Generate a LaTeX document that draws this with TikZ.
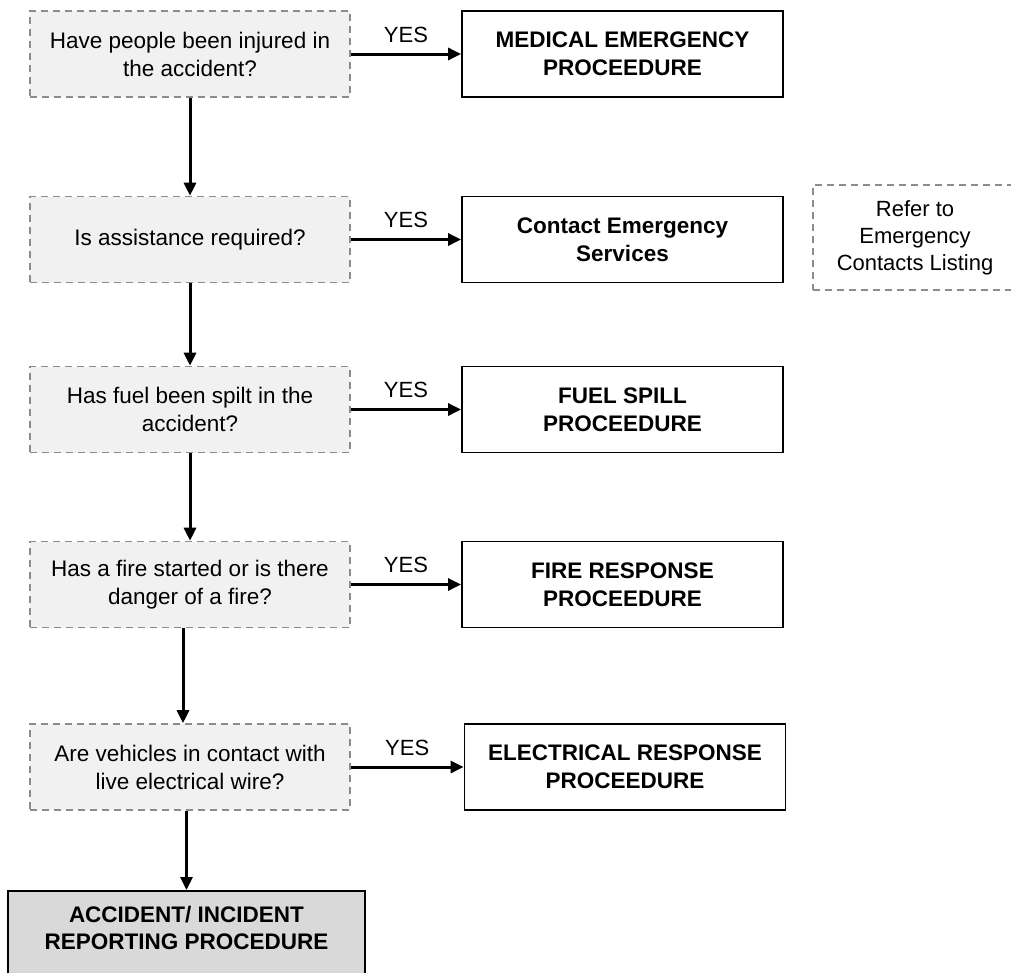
\documentclass[tikz,border=0pt]{standalone}
\usepackage{fontspec}
\setmainfont{Liberation Sans}
\usetikzlibrary{arrows.meta}
\definecolor{qfill}{HTML}{F1F1F1}
\definecolor{qline}{HTML}{8C8C8C}
\definecolor{endfill}{HTML}{D9D9D9}
\begin{document}
\begin{tikzpicture}[x=1pt,y=-1pt,
  question/.style={draw=qline, fill=qfill, line width=1.6pt, dash pattern=on 7pt off 5pt,
    minimum width=320pt, minimum height=86pt, align=center, inner sep=0pt,
    font=\fontsize{22.5}{28}\selectfont},
  note/.style={draw=qline, line width=1.6pt, dash pattern=on 7pt off 5pt,
    minimum width=204pt, minimum height=105pt, align=center, inner sep=0pt,
    font=\fontsize{22}{27}\selectfont},
  procbox/.style={draw=black, fill=white, line width=1.8pt,
    minimum width=321pt, minimum height=86pt, align=center, inner sep=0pt,
    font=\bfseries\fontsize{22.5}{28}\selectfont},
  finalbox/.style={draw=black, fill=endfill, line width=1.8pt,
    minimum width=357pt, minimum height=92pt, align=center, inner sep=0pt,
    text depth=19pt, font=\bfseries\fontsize{22.5}{27}\selectfont},
  flow/.style={line width=3pt, -{Triangle[length=13pt,width=12pt]}},
  yes/.style={midway, above, inner sep=0pt, yshift=10pt, font=\fontsize{22}{25}\selectfont}
]
\useasboundingbox (0,0) rectangle (1011,972);

% decision questions
\node[question] (q1) at (190,54)    {Have people been injured in\\the accident?};
\node[question] (q2) at (190,239.5) {Is assistance required?};
\node[question] (q3) at (190,409.5) {Has fuel been spilt in the\\accident?};
\node[question] (q4) at (190,584.5) {Has a fire started or is there\\danger of a fire?};
\node[question] (q5) at (190,767)   {Are vehicles in contact with\\live electrical wire?};

% procedures
\node[procbox] (p1) at (622.5,54)    {MEDICAL EMERGENCY\\PROCEEDURE};
\node[procbox] (p2) at (622.5,239.5) {Contact Emergency\\Services};
\node[procbox] (p3) at (622.5,409.5) {FUEL SPILL\\PROCEEDURE};
\node[procbox] (p4) at (622.5,584.5) {FIRE RESPONSE\\PROCEEDURE};
\node[procbox] (p5) at (625,767)     {ELECTRICAL RESPONSE\\PROCEEDURE};

% side note
\node[note] (contacts) at (915,237.5) {Refer to\\Emergency\\Contacts Listing};

% final reporting step, running off the lower edge
\node[finalbox, anchor=north] (report) at (186.5,890) {ACCIDENT/ INCIDENT\\REPORTING PROCEDURE};

% YES branches
\draw[flow] (q1.east) -- node[yes] {YES} (p1.west);
\draw[flow] (q2.east) -- node[yes] {YES} (p2.west);
\draw[flow] (q3.east) -- node[yes] {YES} (p3.west);
\draw[flow] (q4.east) -- node[yes] {YES} (p4.west);
\draw[flow] (q5.east) -- node[yes] {YES} (p5.west);

% main sequence
\draw[flow] (q1.south) -- (q2.north);
\draw[flow] (q2.south) -- (q3.north);
\draw[flow] (q3.south) -- (q4.north);
\draw[flow] ([xshift=-7pt]q4.south) -- ([xshift=-7pt]q5.north);
\draw[flow] ([xshift=-3.5pt]q5.south) -- (report.north);
\end{tikzpicture}
\end{document}
